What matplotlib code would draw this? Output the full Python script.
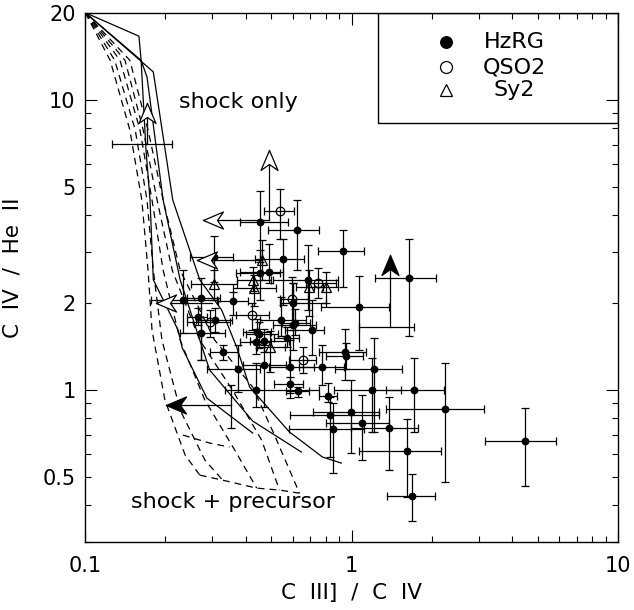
import numpy as np
import matplotlib
matplotlib.use("Agg")
import matplotlib.pyplot as plt
from matplotlib.path import Path
from matplotlib.patches import Rectangle
from matplotlib.ticker import FixedLocator, FuncFormatter, LogLocator, NullFormatter

# ---------------- observed line ratios ----------------
# HzRG: C III]/C IV, C IV/He II with lower/upper error limits
hz_x = [0.451, 0.624, 0.929, 0.304, 0.551, 0.454, 0.489, 0.688, 1.641, 0.233,
        0.271, 0.358, 0.601, 1.069, 0.264, 0.307, 0.541, 0.603, 0.615, 0.711,
        0.271, 0.442, 0.450, 0.436, 0.468, 0.574, 0.330, 0.945, 0.950, 0.468,
        0.374, 0.586, 0.775, 1.209, 0.436, 0.589, 0.628, 0.818, 1.192, 1.72,
        2.24, 0.827, 0.997, 0.849, 1.097, 1.381, 1.617, 1.678, 4.47]
hz_y = [3.80, 3.56, 3.01, 2.88, 2.84, 2.54, 2.55, 2.40, 2.43, 2.04,
        2.08, 2.03, 2.00, 1.93, 1.79, 1.75, 1.75, 1.675, 1.70, 1.61,
        1.57, 1.59, 1.556, 1.47, 1.476, 1.51, 1.355, 1.355, 1.313, 1.22,
        1.184, 1.203, 1.20, 1.18, 1.00, 1.051, 0.99, 0.956, 1.00, 1.00,
        0.858, 0.822, 0.842, 0.732, 0.770, 0.741, 0.616, 0.432, 0.667]
hz_xlo = [0.380, 0.487, 0.746, 0.247, 0.432, 0.369, 0.380, 0.506, 1.22, 0.177,
          0.240, 0.315, 0.536, 0.768, 0.240, 0.261, 0.451, 0.505, 0.55, 0.560,
          0.227, 0.39, 0.40, 0.38, 0.414, 0.513, 0.293, 0.757, 0.80, 0.39,
          0.286, 0.491, 0.637, 0.869, 0.334, 0.513, 0.565, 0.757, 0.861, 1.346,
          1.346, 0.589, 0.714, 0.584, 0.802, 0.995, 1.069, 1.352, 3.18]
hz_xhi = [0.579, 0.757, 1.116, 0.360, 0.665, 0.536, 0.551, 0.886, 2.07, 0.311,
          0.320, 0.408, 0.802, 1.384, 0.286, 0.354, 0.675, 0.736, 0.70, 0.790,
          0.334, 0.50, 0.53, 0.50, 0.584, 0.637, 0.374, 1.132, 1.10, 0.568,
          0.451, 0.725, 0.939, 1.552, 0.757, 0.655, 0.694, 0.879, 1.531, 2.225,
          3.14, 1.27, 1.27, 1.116, 1.384, 1.767, 2.173, 2.06, 5.86]
hz_ylo = [2.76, 2.59, 2.27, 2.36, 1.96, 2.04, 2.33, 1.89, 1.535, 1.57,
          1.27, 1.81, 1.61, 1.374, 1.675, 1.59, 1.53, 1.374, 1.55, 1.32,
          1.27, 1.44, 1.40, 1.33, 1.35, 1.41, 1.27, 1.082, 1.18, 0.876,
          0.987, 0.936, 1.04, 0.718, 0.876, 0.974, 0.948, 0.911, 0.718, 0.718,
          0.481, 0.589, 0.605, 0.516, 0.574, 0.530, 0.428, 0.353, 0.467]
hz_yhi = [4.86, 4.52, 3.56, 3.40, 3.33, 3.04, 3.18, 3.16, 3.32, 2.59,
          2.43, 2.18, 2.33, 2.47, 1.92, 1.92, 2.10, 2.33, 1.90, 2.04,
          1.74, 1.76, 1.72, 1.63, 1.62, 1.653, 1.43, 1.62, 1.45, 1.43,
          1.43, 1.487, 1.43, 1.514, 1.236, 1.111, 1.026, 1.055, 1.286, 1.286,
          1.236, 0.948, 1.082, 0.900, 0.961, 0.948, 0.794, 0.512, 0.865]

# QSO2
q_x = [0.536, 0.745, 0.598, 0.424, 0.294, 0.654]
q_y = [4.14, 2.33, 2.06, 1.82, 1.71, 1.27]
q_xlo = [0.468, 0.675, 0.536, 0.367, 0.240, 0.584]
q_xhi = [0.607, 0.874, 0.684, 0.491, 0.348, 0.736]
q_ylo = [3.33, 2.08, 1.675, 1.61, 1.527, 1.142]
q_yhi = [4.92, 2.63, 2.46, 1.99, 1.888, 1.41]

# Sy2
s_x = [0.459, 0.303, 0.428, 0.429, 0.694, 0.802, 0.495]
s_y = [2.81, 2.32, 2.40, 2.25, 2.27, 2.27, 1.41]
s_xlo = [0.459, 0.25, 0.37, 0.36, 0.62, 0.72, 0.44]
s_xhi = [0.459, 0.37, 0.50, 0.52, 0.78, 0.89, 0.56]
s_ylo = [2.40, 2.04, 2.20, 1.95, 1.80, 2.00, 1.15]
s_yhi = [3.29, 2.59, 2.65, 2.50, 2.60, 2.55, 1.60]

# limits: start point, arrow tip value, direction, filled (HzRG) or open
lim_x = [0.490, 0.490, 0.170, 0.459, 0.300, 1.396, 0.351]
lim_y = [3.86, 3.86, 7.05, 2.81, 1.99, 1.653, 0.888]
lim_tip = [0.277, 6.72, 9.74, 0.262, 0.185, 2.92, 0.2017]
lim_dir = ["left", "up", "up", "left", "left", "up", "left"]
lim_filled = [False, False, False, False, False, True, True]

# error bars that belong to the limit sources
lbar_x = [0.170, 1.396]
lbar_y = [7.05, 1.653]
lbar_xlo = [0.1256, 1.062]
lbar_xhi = [0.2125, 1.717]
vbar_x = [0.351]
vbar_y = [0.888]
vbar_ylo = [0.739]
vbar_yhi = [1.04]

# ---------------- shock model grids ----------------
shock_x = [
    [0.1, 0.159, 0.162, 0.169, 0.175, 0.180, 0.223, 0.231, 0.286, 0.425],
    [0.1, 0.162, 0.1705, 0.196, 0.227, 0.269, 0.293, 0.425, 0.648],
    [0.1, 0.180, 0.213, 0.269, 0.325, 0.370, 0.414, 0.584, 0.777, 0.915],
]
shock_y = [
    [20, 16.6, 13.7, 6.72, 4.52, 2.40, 1.61, 1.40, 0.938, 0.711],
    [20, 13.7, 12.0, 4.52, 2.40, 1.487, 1.172, 0.782, 0.611],
    [20, 12.5, 4.52, 2.40, 1.888, 1.407, 1.024, 0.717, 0.5875, 0.560],
]
prec_x = [
    [0.1, 0.124, 0.147, 0.163, 0.172, 0.178, 0.199, 0.237, 0.269],
    [0.1, 0.129, 0.154, 0.1705, 0.180, 0.194, 0.227, 0.281, 0.328],
    [0.1, 0.135, 0.1605, 0.178, 0.196, 0.227, 0.281, 0.364, 0.440],
    [0.1, 0.141, 0.165, 0.186, 0.212, 0.269, 0.357, 0.459, 0.536],
    [0.1, 0.147, 0.172, 0.196, 0.227, 0.306, 0.425, 0.513, 0.637],
    [0.269, 0.328, 0.440, 0.536, 0.637],
    [0.2326, 0.293, 0.348],
]
prec_y = [
    [20, 13.7, 7.88, 4.52, 2.59, 1.61, 0.924, 0.597, 0.509],
    [20, 13.7, 7.88, 4.52, 2.59, 1.487, 0.853, 0.574, 0.489],
    [20, 13.7, 7.88, 4.52, 2.59, 1.487, 0.924, 0.621, 0.459],
    [20, 13.7, 7.88, 4.52, 2.59, 1.487, 1.0, 0.6725, 0.452],
    [20, 13.7, 7.88, 4.52, 2.59, 1.487, 1.024, 0.70, 0.441],
    [0.509, 0.489, 0.459, 0.452, 0.441],
    [0.6995, 0.6566, 0.636],
]

legend_labels = ["HzRG", "QSO2", "Sy2"]
y_labeled = [0.5, 1, 2, 5, 10, 20]
x_labeled = [0.1, 1, 10]

# ---------------- figure ----------------
plt.rcParams["font.family"] = ["DejaVu Sans"]
W, H = 634, 610
fig = plt.figure(figsize=(W / 100, H / 100), dpi=100)
L, R, T, B = 85.3, 618.0, 12.7, 541.7
ax = fig.add_axes([L / W, 1 - B / H, (R - L) / W, (B - T) / H])
ax.set_xscale("log")
ax.set_yscale("log")
ax.set_xlim(0.1, 10)
ax.set_ylim(0.3, 20)

for s in ax.spines.values():
    s.set_linewidth(1.0)

# model curves
for xs, ys in zip(shock_x, shock_y):
    ax.plot(xs, ys, color="k", lw=0.9, zorder=1)
for xs, ys in zip(prec_x, prec_y):
    ax.plot(xs, ys, color="k", lw=0.9, ls=(0, (5.5, 4)), zorder=1)

eb = dict(ls="none", ecolor="k", elinewidth=0.9, capsize=2.6, capthick=0.9, zorder=2)


def asym(v, lo, hi):
    v, lo, hi = map(np.asarray, (v, lo, hi))
    return [v - lo, hi - v]


ax.errorbar(hz_x, hz_y, xerr=asym(hz_x, hz_xlo, hz_xhi), yerr=asym(hz_y, hz_ylo, hz_yhi),
            marker="o", ms=4.6, mfc="k", mec="k", **eb)
ax.errorbar(q_x, q_y, xerr=asym(q_x, q_xlo, q_xhi), yerr=asym(q_y, q_ylo, q_yhi),
            marker="o", ms=6.2, mfc="none", mec="k", mew=0.9, **eb)
ax.errorbar(s_x, s_y, xerr=asym(s_x, s_xlo, s_xhi), yerr=asym(s_y, s_ylo, s_yhi),
            marker="^", ms=7.0, mfc="none", mec="k", mew=0.9, **eb)
ax.errorbar(lbar_x, lbar_y, xerr=asym(lbar_x, lbar_xlo, lbar_xhi), marker="none", **eb)
ax.errorbar(vbar_x, vbar_y, yerr=asym(vbar_y, vbar_ylo, vbar_yhi), marker="none", **eb)


def head_marker(direction):
    """Notched arrow head with its tip at the origin."""
    hl, hw, notch = 20.0, 8.5, 14.0
    pts = [(0, 0), (-hl, hw), (-notch, 0), (-hl, -hw), (0, 0)]
    if direction == "left":
        pts = [(-a, b) for a, b in pts]
    elif direction == "up":
        pts = [(b, a) for a, b in pts]
    codes = [Path.MOVETO, Path.LINETO, Path.LINETO, Path.LINETO, Path.CLOSEPOLY]
    return Path(pts, codes)


for x0, y0, tip, d, filled in zip(lim_x, lim_y, lim_tip, lim_dir, lim_filled):
    if d == "left":
        ax.plot([x0, tip], [y0, y0], color="k", lw=0.9, zorder=3)
        tx, ty = tip, y0
    else:
        ax.plot([x0, x0], [y0, tip], color="k", lw=0.9, zorder=3)
        tx, ty = x0, tip
    ax.plot([tx], [ty], marker=head_marker(d), ms=28.8, mew=0.9, mec="k",
            mfc="k" if filled else "white", ls="none", zorder=4)

# ticks
ax.tick_params(which="both", direction="in", top=True, right=True,
               labelsize=15, width=0.8)
ax.tick_params(which="major", length=8.4)
ax.tick_params(which="minor", length=4.6)
ax.tick_params(axis="x", which="both", pad=10)
ax.tick_params(axis="y", which="both", pad=7)

ax.xaxis.set_major_locator(FixedLocator(x_labeled))
ax.xaxis.set_minor_locator(LogLocator(base=10, subs=np.arange(2, 10)))
ax.xaxis.set_major_formatter(FuncFormatter(lambda v, p: f"{v:g}"))
ax.xaxis.set_minor_formatter(NullFormatter())

ax.yaxis.set_major_locator(FixedLocator([1, 10]))
ax.yaxis.set_minor_locator(LogLocator(base=10, subs=np.arange(2, 10)))


def ylab(v, p):
    for t in y_labeled:
        if abs(v - t) / t < 1e-6:
            return f"{t:g}"
    return ""


ax.yaxis.set_major_formatter(FuncFormatter(ylab))
ax.yaxis.set_minor_formatter(FuncFormatter(ylab))

fig.text(351.7 / W, 1 - 593 / H, "C  III]  /  C  IV", ha="center", va="center",
         fontsize=15.5)
fig.text(13 / W, 1 - 268 / H, "C  IV  /  He  II", ha="center", va="center",
         rotation=90, fontsize=15.5)

# region annotations
ax.text(0.288, 0.832, "shock only", transform=ax.transAxes, ha="center", va="center",
        fontsize=16)
ax.text(0.277, 0.0756, "shock + precursor", transform=ax.transAxes, ha="center",
        va="center", fontsize=16)

# legend box
ax.add_patch(Rectangle((0.550, 0.792), 0.45, 0.208, transform=ax.transAxes,
                       fill=False, lw=1.0, zorder=5))
leg_marker = [dict(marker="o", mfc="k"), dict(marker="o", mfc="none"),
              dict(marker="^", mfc="none")]
leg_size = [8.4, 8.6, 9.2]
leg_y = [0.945, 0.897, 0.853]
for lab, mk, sz, yy in zip(legend_labels, leg_marker, leg_size, leg_y):
    ax.plot([0.678], [yy], transform=ax.transAxes, ls="none", mec="k", mew=0.9,
            ms=sz, zorder=5, **mk)
    ax.text(0.805, yy, lab, transform=ax.transAxes, ha="center", va="center",
            fontsize=16, zorder=5)

fig.savefig("out.png", dpi=100)
